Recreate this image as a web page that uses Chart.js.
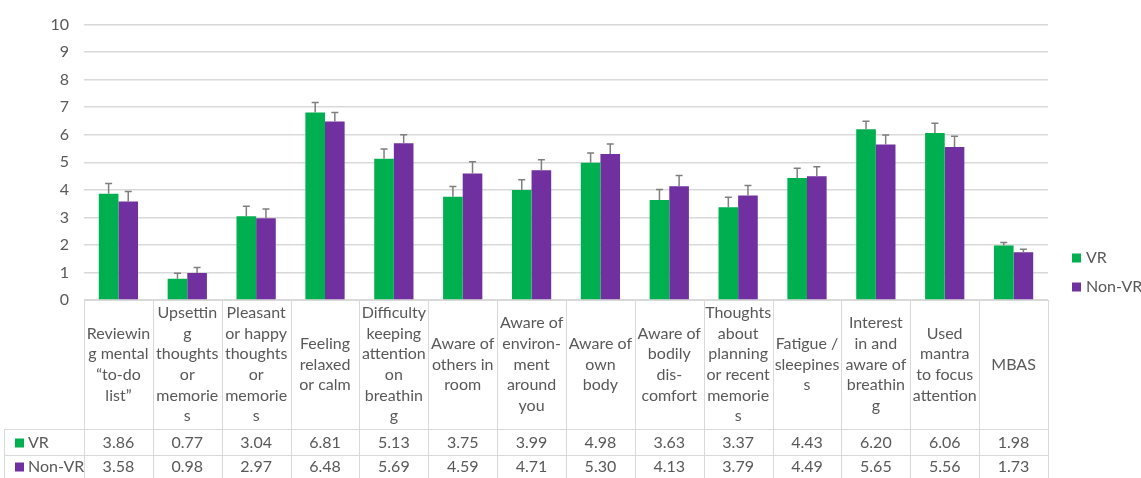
<!DOCTYPE html>
<html>
<head>
<meta charset="utf-8">
<script src="https://cdn.jsdelivr.net/npm/chart.js@4"></script>
<style>
  html, body { margin: 0; padding: 0; background: #fff; }
  #wrap { width: 1141px; height: 478px; }
</style>
</head>
<body>
<div id="wrap"><canvas id="chart" width="1141" height="478"></canvas></div>
<script>
// category labels, split the same way as the table header
const categories = [
    ["Reviewin", "g mental", "\u201cto-do", "list\u201d"],
    ["Upsettin", "g", "thoughts", "or", "memorie", "s"],
    ["Pleasant", "or happy", "thoughts", "or", "memorie", "s"],
    ["Feeling", "relaxed", "or calm"],
    ["Difficulty", "keeping", "attention", "on", "breathin", "g"],
    ["Aware of", "others in", "room"],
    ["Aware of", "environ-", "ment", "around", "you"],
    ["Aware of", "own", "body"],
    ["Aware of", "bodily", "dis-", "comfort"],
    ["Thoughts", "about", "planning", "or recent", "memorie", "s"],
    ["Fatigue /", "sleepines", "s"],
    ["Interest", "in and", "aware of", "breathin", "g"],
    ["Used", "mantra", "to focus", "attention"],
    ["MBAS"]
];

const vrValues    = [3.86, 0.77, 3.04, 6.81, 5.13, 3.75, 3.99, 4.98, 3.63, 3.37, 4.43, 6.20, 6.06, 1.98];
const nonVrValues = [3.58, 0.98, 2.97, 6.48, 5.69, 4.59, 4.71, 5.30, 4.13, 3.79, 4.49, 5.65, 5.56, 1.73];

// upper error bars
const vrErrors    = [0.37, 0.20, 0.36, 0.36, 0.35, 0.37, 0.38, 0.36, 0.38, 0.36, 0.35, 0.29, 0.36, 0.11];
const nonVrErrors = [0.36, 0.20, 0.33, 0.33, 0.31, 0.43, 0.38, 0.36, 0.39, 0.37, 0.35, 0.34, 0.39, 0.11];

const yTicks = [0, 1, 2, 3, 4, 5, 6, 7, 8, 9, 10];

const GREEN = '#00B050';
const PURPLE = '#7030A0';
const TEXT = '#595959';
const GRID = '#d9d9d9';
const FONT = 'Lato, "Open Sans", sans-serif';

// error bars on top of each bar
const errorBarPlugin = {
    id: 'errorBars',
    afterDatasetsDraw(chart) {
        const ctx = chart.ctx;
        const y = chart.scales.y;
        ctx.save();
        ctx.strokeStyle = '#7f7f7f';
        ctx.lineWidth = 1.5;
        chart.data.datasets.forEach((ds, di) => {
            const meta = chart.getDatasetMeta(di);
            meta.data.forEach((bar, i) => {
                const top = y.getPixelForValue(ds.data[i] + ds.errors[i]);
                ctx.beginPath();
                ctx.moveTo(bar.x, bar.y);
                ctx.lineTo(bar.x, top);
                ctx.moveTo(bar.x - 3.5, top);
                ctx.lineTo(bar.x + 3.5, top);
                ctx.stroke();
            });
        });
        ctx.restore();
    }
};

// data table under the plot + legend on the right
const tablePlugin = {
    id: 'dataTable',
    afterDraw(chart) {
        const ctx = chart.ctx;
        const area = chart.chartArea;
        const x = chart.scales.x;
        const n = categories.length;
        const colW = (area.right - area.left) / n;
        const headTop = area.bottom;
        const headBottom = 429;
        const row1 = 455;
        const row2 = 480;
        const labelLeft = 4;

        ctx.save();
        ctx.strokeStyle = GRID;
        ctx.lineWidth = 1;
        ctx.beginPath();
        ctx.moveTo(area.left, headTop + 0.5);
        ctx.lineTo(area.right, headTop + 0.5);
        [headBottom, row1].forEach(yy => {
            ctx.moveTo(labelLeft, yy + 0.5);
            ctx.lineTo(area.right, yy + 0.5);
        });
        for (let k = 0; k <= n; k++) {
            const xx = Math.round(area.left + k * colW) + 0.5;
            ctx.moveTo(xx, headTop);
            ctx.lineTo(xx, row2);
        }
        ctx.moveTo(labelLeft + 0.5, headBottom);
        ctx.lineTo(labelLeft + 0.5, row2);
        ctx.stroke();

        ctx.fillStyle = TEXT;
        ctx.font = '16px ' + FONT;
        ctx.textAlign = 'center';
        ctx.textBaseline = 'middle';
        const lineH = 20.7;
        const midHead = (headTop + headBottom) / 2;
        categories.forEach((lines, i) => {
            const cx = x.getPixelForValue(i);
            const start = midHead - (lines.length - 1) * lineH / 2;
            lines.forEach((ln, j) => ctx.fillText(ln, cx, start + j * lineH));
            ctx.fillText(vrValues[i].toFixed(2), cx, (headBottom + row1) / 2 + 1);
            ctx.fillText(nonVrValues[i].toFixed(2), cx, (row1 + row2) / 2 - 0.5);
        });

        // row labels
        ctx.textAlign = 'left';
        const rows = [['VR', GREEN, (headBottom + row1) / 2 + 1], ['Non-VR', PURPLE, (row1 + row2) / 2 - 0.5]];
        rows.forEach(([name, col, yy]) => {
            ctx.fillStyle = col;
            ctx.fillRect(15, yy - 4.5, 9, 9);
            ctx.fillStyle = TEXT;
            ctx.fillText(name, 28, yy);
        });

        // legend
        const legend = [['VR', GREEN, 258], ['Non-VR', PURPLE, 287]];
        legend.forEach(([name, col, yy]) => {
            ctx.fillStyle = col;
            ctx.fillRect(1072, yy - 4.5, 9, 9);
            ctx.fillStyle = TEXT;
            ctx.fillText(name, 1086, yy);
        });
        ctx.restore();
    }
};

new Chart(document.getElementById('chart').getContext('2d'), {
    type: 'bar',
    data: {
        labels: categories.map(c => c.join(' ')),
        datasets: [
            { label: 'VR', data: vrValues, errors: vrErrors, backgroundColor: GREEN },
            { label: 'Non-VR', data: nonVrValues, errors: nonVrErrors, backgroundColor: PURPLE }
        ]
    },
    options: {
        responsive: false,
        animation: false,
        layout: { padding: { top: 21, right: 93, bottom: 178, left: 0 } },
        datasets: { bar: { categoryPercentage: 0.57, barPercentage: 1 } },
        scales: {
            x: { display: false },
            y: {
                min: 0,
                max: 10,
                afterFit: s => { s.width = 84; },
                afterBuildTicks: s => { s.ticks = yTicks.map(v => ({ value: v })); },
                border: { display: false },
                grid: { color: GRID, drawTicks: false, lineWidth: 1.5 },
                ticks: { color: TEXT, padding: 15, font: { family: FONT, size: 16 } }
            }
        },
        plugins: {
            legend: { display: false },
            tooltip: { enabled: false }
        }
    },
    plugins: [errorBarPlugin, tablePlugin]
});
</script>
</body>
</html>
